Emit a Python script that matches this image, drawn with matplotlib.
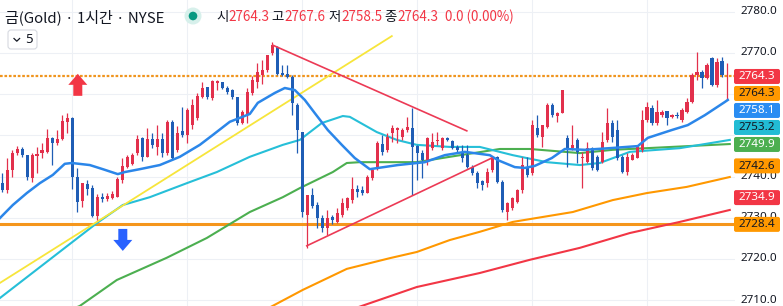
import numpy as np
import matplotlib
matplotlib.use('Agg')
import matplotlib.pyplot as plt
from matplotlib.patches import FancyBboxPatch, Polygon, Circle

plt.rcParams['font.family'] = ['Noto Sans CJK KR', 'DejaVu Sans']

# ---------------- data ----------------
opens = [2738.4, 2736.7, 2741.6, 2745.7, 2746.7, 2745.2, 2739.7, 2745.0, 2745.7, 2746.0,
         2749.4, 2748.2, 2749.1, 2753.3, 2754.2, 2739.9, 2734.1, 2738.2, 2737.2, 2730.4,
         2735.0, 2734.6, 2734.8, 2735.0, 2739.2, 2742.3, 2743.1, 2745.7, 2749.4, 2744.8,
         2749.1, 2747.2, 2749.1, 2745.7, 2753.3, 2746.5, 2751.1, 2750.1, 2752.5, 2754.2,
         2759.3, 2761.7, 2759.1, 2762.7, 2762.9, 2761.5, 2761.0, 2759.3, 2753.0, 2755.0,
         2760.3, 2762.9, 2764.7, 2765.9, 2770.0, 2771.5, 2765.1, 2764.9, 2764.2, 2757.4,
         2750.8, 2730.7, 2735.5, 2733.1, 2729.9, 2727.5, 2730.2, 2729.0, 2730.7, 2732.4,
         2734.3, 2737.0, 2736.7, 2736.0, 2739.7, 2742.1, 2747.9, 2746.5, 2750.6, 2751.3,
         2749.6, 2751.3, 2751.8, 2747.4, 2745.7, 2743.5, 2747.0, 2748.6, 2747.0, 2749.4,
         2748.6, 2747.2, 2746.0, 2745.2, 2742.3, 2740.9, 2738.9, 2738.4, 2741.6, 2744.8,
         2738.7, 2731.4, 2732.4, 2733.8, 2736.7, 2742.3, 2740.9, 2751.8, 2749.6, 2752.0,
         2757.4, 2754.7, 2755.4, 2749.4, 2746.9, 2748.9, 2744.5, 2743.5, 2746.9, 2744.8,
         2743.5, 2748.9, 2753.0, 2751.3, 2744.8, 2741.1, 2744.0, 2744.5, 2746.5, 2753.7,
         2756.6, 2753.0, 2754.9, 2755.9, 2754.5, 2754.9, 2753.7, 2755.7, 2758.1, 2764.7,
         2765.4, 2763.9, 2768.8, 2762.2, 2768.1, 2764.3]
highs = [2740.9, 2744.5, 2746.5, 2747.4, 2747.2, 2745.2, 2745.7, 2747.2, 2748.2, 2751.5,
         2749.6, 2751.3, 2754.9, 2755.4, 2754.5, 2742.1, 2738.4, 2739.2, 2738.0, 2735.8,
         2736.0, 2736.0, 2736.5, 2739.9, 2744.5, 2745.2, 2745.7, 2750.1, 2749.6, 2751.8,
         2750.6, 2752.5, 2750.6, 2753.7, 2753.7, 2752.3, 2756.9, 2756.6, 2758.8, 2760.3,
         2763.0, 2761.7, 2763.4, 2763.4, 2762.9, 2762.0, 2761.3, 2759.3, 2756.2, 2761.5,
         2764.4, 2767.6, 2768.3, 2769.5, 2772.7, 2771.7, 2767.1, 2767.1, 2764.7, 2757.9,
         2750.8, 2735.5, 2737.2, 2733.8, 2730.7, 2731.9, 2730.7, 2732.4, 2734.8, 2735.0,
         2739.9, 2738.0, 2737.7, 2740.4, 2742.1, 2748.6, 2750.1, 2750.6, 2752.5, 2752.0,
         2751.8, 2754.5, 2756.6, 2747.7, 2746.5, 2749.6, 2750.6, 2750.8, 2749.6, 2749.6,
         2748.9, 2747.7, 2747.7, 2747.7, 2742.8, 2741.4, 2739.2, 2742.1, 2745.0, 2745.0,
         2739.2, 2733.8, 2735.0, 2737.0, 2744.8, 2744.8, 2753.7, 2754.9, 2752.5, 2757.9,
         2757.9, 2755.7, 2761.0, 2750.1, 2752.5, 2749.4, 2746.0, 2748.4, 2747.2, 2745.2,
         2750.8, 2756.6, 2753.7, 2753.7, 2745.2, 2745.7, 2745.7, 2747.7, 2756.2, 2758.1,
         2757.4, 2758.6, 2756.2, 2755.9, 2755.2, 2755.7, 2756.6, 2759.1, 2765.1, 2770.2,
         2765.9, 2767.6, 2769.0, 2768.8, 2769.0, 2767.6]
lows = [2736.3, 2736.0, 2739.9, 2745.2, 2744.8, 2739.2, 2738.7, 2740.9, 2744.5, 2745.7,
        2742.8, 2747.7, 2748.9, 2750.6, 2737.0, 2731.4, 2732.6, 2735.5, 2730.2, 2729.5,
        2733.8, 2734.1, 2734.6, 2735.0, 2738.4, 2742.1, 2742.8, 2745.2, 2743.8, 2744.8,
        2746.9, 2745.2, 2744.8, 2745.2, 2744.0, 2746.0, 2749.6, 2748.2, 2751.5, 2753.7,
        2759.1, 2758.8, 2758.6, 2761.0, 2761.3, 2760.0, 2758.8, 2752.5, 2752.8, 2753.0,
        2759.8, 2761.5, 2762.5, 2765.4, 2769.5, 2764.7, 2764.4, 2763.9, 2754.9, 2745.7,
        2730.2, 2722.7, 2732.4, 2727.5, 2726.6, 2725.8, 2728.5, 2728.7, 2730.2, 2731.9,
        2733.6, 2735.0, 2735.5, 2736.0, 2739.2, 2741.6, 2745.2, 2746.0, 2748.4, 2748.2,
        2748.9, 2750.8, 2735.5, 2739.2, 2739.7, 2742.8, 2746.5, 2747.7, 2746.5, 2748.6,
        2746.7, 2746.0, 2743.5, 2742.1, 2740.4, 2737.2, 2736.7, 2737.5, 2741.1, 2738.4,
        2731.4, 2729.5, 2731.9, 2733.6, 2736.0, 2739.9, 2740.4, 2749.6, 2747.2, 2751.8,
        2754.5, 2753.3, 2755.4, 2742.3, 2746.5, 2743.3, 2737.2, 2743.3, 2741.6, 2741.4,
        2743.3, 2748.4, 2748.4, 2744.0, 2740.9, 2740.4, 2744.0, 2744.5, 2746.0, 2753.3,
        2752.5, 2752.5, 2754.5, 2752.5, 2754.2, 2754.2, 2753.3, 2755.4, 2757.9, 2763.4,
        2761.5, 2763.7, 2762.0, 2761.7, 2764.2, 2758.5]
closes = [2736.7, 2741.6, 2745.7, 2746.7, 2745.2, 2739.9, 2745.2, 2745.5, 2746.5, 2749.4,
          2748.2, 2749.1, 2753.5, 2754.2, 2739.9, 2733.8, 2738.4, 2737.0, 2730.4, 2735.0,
          2734.6, 2735.3, 2735.8, 2739.4, 2742.6, 2744.8, 2745.2, 2749.1, 2744.8, 2749.1,
          2747.7, 2749.1, 2745.7, 2753.3, 2744.5, 2750.6, 2750.1, 2756.2, 2757.4, 2759.6,
          2761.5, 2759.3, 2763.2, 2763.2, 2761.5, 2760.5, 2759.3, 2753.0, 2755.7, 2760.5,
          2763.4, 2765.4, 2765.9, 2769.5, 2771.9, 2764.9, 2764.7, 2764.2, 2757.9, 2751.3,
          2731.4, 2735.5, 2732.9, 2729.9, 2727.5, 2729.9, 2729.5, 2731.2, 2733.6, 2734.8,
          2737.0, 2736.3, 2736.0, 2739.9, 2741.6, 2748.2, 2746.0, 2749.6, 2751.8, 2751.8,
          2751.3, 2752.0, 2747.2, 2745.7, 2744.0, 2749.4, 2748.4, 2748.9, 2749.4, 2748.9,
          2747.0, 2746.5, 2744.5, 2742.3, 2740.9, 2738.4, 2738.0, 2741.1, 2744.5, 2738.7,
          2731.9, 2733.6, 2734.8, 2736.7, 2742.8, 2740.4, 2752.5, 2750.1, 2752.5, 2757.4,
          2754.9, 2755.4, 2761.0, 2746.9, 2747.7, 2746.0, 2744.8, 2746.9, 2742.1, 2741.6,
          2748.4, 2753.0, 2749.6, 2744.5, 2741.1, 2744.8, 2745.2, 2747.2, 2753.7, 2756.9,
          2753.0, 2755.7, 2755.7, 2754.2, 2754.9, 2754.7, 2756.2, 2758.1, 2764.7, 2765.4,
          2763.9, 2767.1, 2762.2, 2767.8, 2764.7, 2764.3]

day_starts = [14, 37, 60, 83, 106, 129]
price_ticks = [2710, 2720, 2730, 2740, 2750, 2760, 2770, 2780]
# tick labels that TradingView leaves visible (others are covered by value labels)
shown_tick_labels = [2710, 2720, 2730, 2740, 2770, 2780]

# moving-average lines (bar index, price)
step_ma_x = [-0.5, 2.1, 4.9, 7.5, 10.1, 12.5, 13.9, 17.5, 20.1, 23.1, 24.5, 27.5, 31.5, 35.5,
             39.5, 42.1, 45.5, 49.5, 51.1, 54.5, 56.5, 58.5, 60.5, 62.5, 65.1, 67.9, 70.5,
             73.5, 79.1, 84.5, 88.5, 92.5, 97.5, 99.1, 102.5, 104.5, 106.5, 109.9, 112.5,
             116.5, 121.5, 127.1, 129.1, 133.9, 137.1, 140.5, 144.5, 145.1]
step_ma_y = [2729.9, 2733.1, 2736.0, 2738.4, 2740.4, 2743.1, 2743.3, 2742.8, 2741.8, 2740.6,
             2741.1, 2741.8, 2742.8, 2744.8, 2747.7, 2750.1, 2753.3, 2755.2, 2757.9, 2760.3,
             2761.5, 2761.0, 2758.6, 2755.4, 2751.3, 2747.7, 2744.5, 2741.8, 2742.8, 2743.5,
             2745.2, 2746.0, 2745.2, 2744.0, 2742.3, 2742.1, 2742.6, 2744.5, 2746.7, 2746.5,
             2746.9, 2747.4, 2749.4, 2751.3, 2752.5, 2754.9, 2758.1, 2758.6]
cyan_ma_x = [-0.5, 18.9, 24.1, 29.5, 36.9, 42.9, 49.5, 56.1, 59.5, 63.9, 68.1, 69.5, 74.9,
             78.9, 82.9, 89.5, 95.5, 102.1, 108.9, 115.5, 119.5, 125.5, 135.5, 145.5]
cyan_ma_y = [2710.5, 2728.7, 2733.1, 2735.0, 2738.4, 2741.1, 2744.8, 2747.7, 2748.9, 2753.0,
             2754.7, 2754.5, 2750.8, 2748.9, 2747.7, 2747.2, 2747.2, 2745.2, 2743.5, 2742.8,
             2743.3, 2746.0, 2746.9, 2748.9]
green_ma_x = [13.5, 15.5, 22.9, 32.9, 40.9, 49.5, 56.1, 59.5, 66.1, 68.9, 71.5, 82.9, 89.5,
              99.5, 105.5, 115.5, 122.1, 128.9, 145.5]
green_ma_y = [2707.6, 2708.6, 2714.9, 2720.3, 2725.1, 2731.4, 2735.0, 2737.2, 2741.1, 2743.3,
              2743.5, 2743.5, 2744.8, 2746.7, 2746.7, 2745.7, 2746.5, 2746.9, 2747.9]
orange_ma_x = [52.5, 60.1, 68.9, 77.5, 82.9, 89.5, 95.5, 102.1, 114.1, 122.1, 128.9, 136.9, 145.5]
orange_ma_y = [2707.6, 2712.5, 2717.6, 2720.2, 2721.7, 2724.6, 2726.6, 2729.0, 2731.4, 2734.3,
               2736.0, 2737.5, 2739.9]
red_ma_x = [69.5, 82.9, 95.5, 105.5, 115.5, 125.5, 135.5, 145.5]
red_ma_y = [2707.6, 2713.2, 2716.6, 2719.8, 2722.7, 2726.3, 2729.0, 2731.9]

# drawings
yellow_x = [-0.46, 77.9]
yellow_y = [2714.2, 2774.1]
tri_upper_x = [54.1, 92.9]
tri_upper_y = [2771.9, 2751.1]
tri_lower_x = [60.9, 97.9]
tri_lower_y = [2723.2, 2744.5]
level_resist = 2764.3
level_support = 2728.4
arrow_up_at = (15.1, 2759.6)     # base of the up arrow
arrow_down_at = (24.1, 2727.3)   # top of the down arrow

# right scale labels
label_values = [2764.3, 2764.3, 2758.1, 2753.2, 2749.9, 2742.6, 2734.9, 2728.4]
label_colors = ['#f23645', '#ff9800', '#2a8df2', '#22bcd4', '#4caf50', '#ff9800', '#f23645', '#ff9800']
label_text_colors = ['white', '#131722', 'white', '#131722', 'white', '#131722', 'white', '#131722']

title_main = '금(Gold) · 1시간 · NYSE'
ohlc_parts = [('시', '#131722'), ('2764.3', '#f23645'), (' 고', '#131722'), ('2767.6', '#f23645'),
              (' 저', '#131722'), ('2758.5', '#f23645'), (' 종', '#131722'), ('2764.3', '#f23645'),
              ('  0.0 (0.00%)', '#f23645')]

# ---------------- figure ----------------
W, H = 783, 306
PLOT_W = 735
fig = plt.figure(figsize=(W / 100, H / 100), dpi=100)
fig.patch.set_facecolor('white')
ax = fig.add_axes([0, 0, PLOT_W / W, 1])
ax.set_xlim(-0.46, 146.54)
ax.set_ylim(2708.59, 2782.86)
ax.axis('off')

grid_c = '#edf0f5'
for p in price_ticks:
    ax.axhline(p, color=grid_c, lw=0.8, zorder=0)
for d in day_starts:
    ax.axvline(d, color=grid_c, lw=0.8, zorder=0)

UP, DOWN = '#e2304c', '#1f5db5'
idx = np.arange(len(opens))
o = np.array(opens); h = np.array(highs); l = np.array(lows); c = np.array(closes)
cols = [UP if cc >= oo else DOWN for oo, cc in zip(o, c)]
ax.vlines(idx, l, h, colors=cols, lw=0.9, zorder=3)
body_b = np.minimum(o, c)
body_h = np.maximum(np.abs(c - o), 0.2)
ax.bar(idx, body_h, bottom=body_b, width=0.72, color=cols, linewidth=0, zorder=4)

# levels
ax.axhline(level_resist, color='#f0951f', lw=1.6, ls=(0, (1.2, 0.8)), zorder=2)
ax.axhline(level_support, color='#f5961c', lw=2.2, zorder=2)

# moving averages
ax.plot(red_ma_x, red_ma_y, color='#f23645', lw=1.5, zorder=2)
ax.plot(orange_ma_x, orange_ma_y, color='#ff9800', lw=1.5, zorder=2)
ax.plot(green_ma_x, green_ma_y, color='#4caf50', lw=1.5, zorder=2)
ax.plot(cyan_ma_x, cyan_ma_y, color='#26bfd8', lw=1.5, zorder=2)
ax.plot(step_ma_x, step_ma_y, color='#2b86e9', lw=1.8, zorder=5)

# trend drawings
ax.plot(yellow_x, yellow_y, color='#f7e53b', lw=1.3, zorder=2)
ax.plot(tri_upper_x, tri_upper_y, color='#ec3a55', lw=1.2, zorder=6)
ax.plot(tri_lower_x, tri_lower_y, color='#ec3a55', lw=1.2, zorder=6)

# ---------------- overlay in pixel coordinates ----------------
ov = fig.add_axes([0, 0, 1, 1], facecolor='none')
ov.set_xlim(0, W)
ov.set_ylim(H, 0)
ov.axis('off')
ov.set_zorder(10)

def to_px(x, y):
    dx, dy = ax.transData.transform((x, y))
    return dx, H - dy

# arrows
bx, by = to_px(*arrow_up_at)
up_poly = [(bx - 4.5, by), (bx + 4.5, by), (bx + 4.5, by - 11), (bx + 9.5, by - 11),
           (bx, by - 22), (bx - 9.5, by - 11), (bx - 4.5, by - 11)]
ov.add_patch(Polygon(up_poly, closed=True, color='#f23645', lw=0))
tx, ty = to_px(*arrow_down_at)
dn_poly = [(tx - 4.5, ty), (tx + 4.5, ty), (tx + 4.5, ty + 11), (tx + 9.5, ty + 11),
           (tx, ty + 22), (tx - 9.5, ty + 11), (tx - 4.5, ty + 11)]
ov.add_patch(Polygon(dn_poly, closed=True, color='#2962ff', lw=0))

# price axis tick labels
for p in shown_tick_labels:
    _, py = to_px(0, p)
    ov.text(777, py, f'{p:.1f}', ha='right', va='center', fontsize=8.4,
            color='#131722', family=['Noto Sans', 'DejaVu Sans'], zorder=1)

# colored value labels with collision offset
prev = -100
for v, bc, tc in zip(label_values, label_colors, label_text_colors):
    _, py = to_px(0, v)
    py = max(py, prev + 17)
    prev = py
    ov.add_patch(FancyBboxPatch((734, py - 7.5), 46, 15, boxstyle='round,pad=0,rounding_size=2',
                                fc=bc, ec='none', zorder=5))
    ov.text(757, py + 0.3, f'{v:.1f}', ha='center', va='center', fontsize=8.4,
            color=tc, family=['Noto Sans', 'DejaVu Sans'], zorder=6)

# title line
ov.text(5, 17, title_main, ha='left', va='center', fontsize=10.8, color='#131722')
ov.add_patch(Circle((193, 16), 8.5, color='#d7f0eb', lw=0))
ov.add_patch(Circle((193, 16), 4.3, color='#089981', lw=0))

fig.canvas.draw()
renderer = fig.canvas.get_renderer()
xcur = 216
for txt, col in ohlc_parts:
    t = ov.text(xcur, 17, txt, ha='left', va='center', fontsize=9.7, color=col)
    xcur = t.get_window_extent(renderer).x1

# interval button
ov.add_patch(FancyBboxPatch((8, 30), 29, 19, boxstyle='round,pad=0,rounding_size=3',
                            fc='white', ec='#d6d9e0', lw=0.8))
ov.plot([14, 16.8, 19.6], [38.5, 41.2, 38.5], color='#131722', lw=0.9)
ov.text(25, 39.5, '5', ha='left', va='center', fontsize=9.5, color='#131722',
        family=['Noto Sans', 'DejaVu Sans'])

fig.savefig('out.png', dpi=100, facecolor='white')
